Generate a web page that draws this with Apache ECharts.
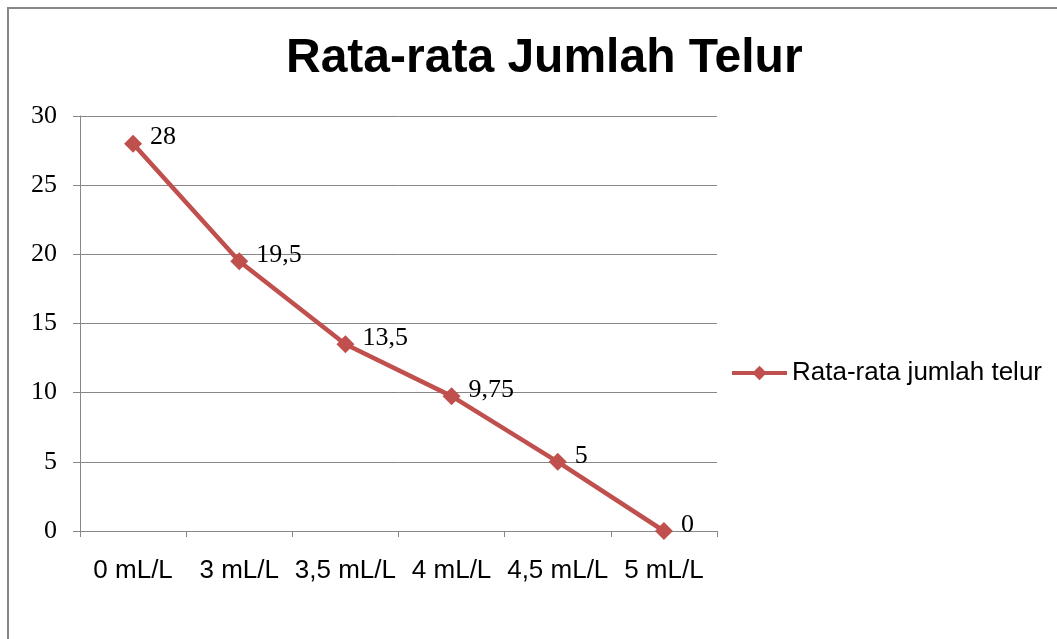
<!DOCTYPE html>
<html>
<head>
<meta charset="utf-8">
<script src="https://cdn.jsdelivr.net/npm/echarts@6/dist/echarts.min.js"></script>
<style>
  html, body { margin: 0; padding: 0; background: #fff; }
  #chart { width: 1057px; height: 639px; }
</style>
</head>
<body>
<div id="chart"></div>
<script>
// data
var categories = ['0 mL/L', '3 mL/L', '3,5 mL/L', '4 mL/L', '4,5 mL/L', '5 mL/L']
var telurValues = [28, 19.5, 13.5, 9.75, 5, 0]
var seriesName = 'Rata-rata jumlah telur'
var titleText = 'Rata-rata Jumlah Telur'

var chart = echarts.init(document.getElementById('chart'))
var option = {
  backgroundColor: '#fff',
  animation: false,
  title: {
    text: titleText,
    left: 281,
    top: 30,
    textStyle: {
      fontFamily: 'Liberation Sans, Arial',
      fontWeight: 'bold',
      fontSize: 48,
      color: '#000'
    }
  },
  graphic: [{
    type: 'rect',
    shape: { x: 8, y: 8, width: 1100, height: 700 },
    style: { fill: 'none', stroke: '#878787', lineWidth: 2 },
    silent: true
  }],
  legend: {
    left: 725,
    top: 355,
    itemWidth: 55,
    itemHeight: 18,
    data: [seriesName],
    lineStyle: { width: 4 },
    textStyle: {
      fontFamily: 'Liberation Sans, Arial',
      fontSize: 26,
      color: '#000'
    }
  },
  grid: {
    left: 80,
    right: 340,
    top: 116,
    bottom: 108,
    containLabel: false
  },
  xAxis: {
    type: 'category',
    data: categories,
    boundaryGap: true,
    axisLine: { lineStyle: { color: '#878787', width: 1 } },
    axisTick: { show: true, length: 6, lineStyle: { color: '#878787' } },
    axisLabel: {
      margin: 27,
      interval: 0,
      fontFamily: 'Liberation Sans, Arial',
      fontSize: 26,
      color: '#000'
    },
    splitLine: { show: false }
  },
  yAxis: {
    type: 'value',
    min: 0,
    max: 30,
    interval: 5,
    axisLine: { show: true, lineStyle: { color: '#878787', width: 1 } },
    axisTick: { show: true, length: 7, lineStyle: { color: '#878787' } },
    axisLabel: {
      margin: 23,
      fontFamily: 'Liberation Serif, Times New Roman',
      fontSize: 26,
      color: '#000'
    },
    splitLine: { show: true, lineStyle: { color: '#878787', width: 1 } }
  },
  series: [{
    name: seriesName,
    type: 'line',
    data: telurValues,
    symbol: 'diamond',
    symbolSize: 18,
    color: '#C0504D',
    lineStyle: { color: '#C0504D', width: 4.5 },
    itemStyle: { color: '#C0504D' },
    label: {
      show: true,
      position: 'right',
      distance: 8,
      offset: [0, -6],
      fontFamily: 'Liberation Serif, Times New Roman',
      fontSize: 26,
      color: '#000',
      formatter: function (p) {
        return String(p.value).replace('.', ',')
      }
    }
  }]
}
chart.setOption(option)
</script>
</body>
</html>
